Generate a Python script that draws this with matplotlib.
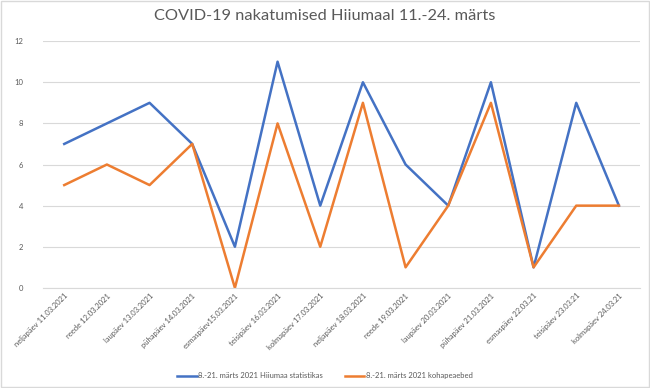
import matplotlib
matplotlib.use("Agg")
import matplotlib.pyplot as plt
from matplotlib.patches import Rectangle

plt.rcParams['font.family'] = ['Lato', 'DejaVu Sans']

days = ["neljapäev 11.03.2021", "reede 12.03.2021", "laupäev 13.03.2021",
        "pühapäev 14.03.2021", "esmaspäev15.03.2021", "teisipäev 16.03.2021",
        "kolmapäev 17.03.2021", "neljapäev 18.03.2021", "reede 19.03.2021",
        "laupäev 20.03.2021", "pühapäev 21.03.2021", "esmaspäev 22.03.21",
        "teisipäev 23.03.21", "kolmapäev 24.03.21"]
statistika = [7, 8, 9, 7, 2, 11, 4, 10, 6, 4, 10, 1, 9, 4]
kohapeal = [5, 6, 5, 7, 0, 8, 2, 9, 1, 4, 9, 1, 4, 4]

blue = '#4472C4'
orange = '#ED7D31'

fig = plt.figure(figsize=(6.5, 3.88), dpi=100)
ax = fig.add_axes([0.066, 0.258, 0.919, 0.636])

x = list(range(len(days)))
ax.plot(x, statistika, color=blue, lw=1.8, label="8.-21. märts 2021 Hiiumaa statistikas")
ax.plot(x, kohapeal, color=orange, lw=1.8, label="8.-21. märts 2021 kohapeaebed")

ax.set_xlim(-0.5, len(days) - 0.5)
ax.set_ylim(0, 12)
ax.set_yticks(range(0, 13, 2))
ax.yaxis.grid(True, color='#d9d9d9', lw=0.8)
ax.set_axisbelow(True)
for s in ['top', 'right', 'left']:
    ax.spines[s].set_visible(False)
ax.spines['bottom'].set_color('#d9d9d9')
ax.tick_params(axis='y', length=0, labelsize=5.5, labelcolor='#595959', pad=14)
ax.tick_params(axis='x', length=0, labelsize=5.5, labelcolor='#595959', pad=3)
ax.set_xticks(x)
ax.set_xticklabels(days, rotation=45, ha='right', rotation_mode='anchor')

fig.suptitle("COVID-19 nakatumised Hiiumaal 11.-24. märts", y=0.978,
             fontsize=11.8, color='#595959')
fig.legend(loc='lower center', bbox_to_anchor=(0.5, 0.005), ncol=2, frameon=False,
           fontsize=5.5, labelcolor='#595959', handlelength=2.6,
           handletextpad=0.2, columnspacing=2.8)

fig.patches.append(Rectangle((0.002, 0.002), 0.996, 0.996, transform=fig.transFigure,
                             fill=False, edgecolor='#d9d9d9', lw=1))

fig.savefig("out.png", dpi=100)
